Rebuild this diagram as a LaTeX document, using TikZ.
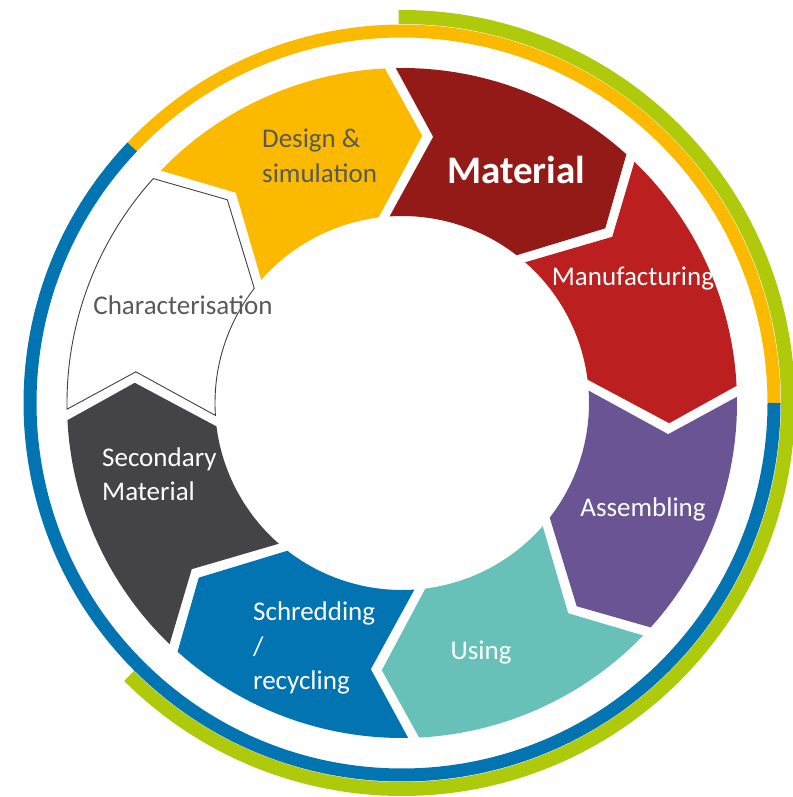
\documentclass[tikz,border=0pt]{standalone}
\usepackage{fontspec}
\setmainfont{Carlito}
\usepackage{tikz}
\usetikzlibrary{positioning}
\definecolor{design}{HTML}{FBBA00}
\definecolor{material}{HTML}{931A16}
\definecolor{manuf}{HTML}{BC1F1F}
\definecolor{assem}{HTML}{6A5494}
\definecolor{using}{HTML}{67C1B9}
\definecolor{recyc}{HTML}{0274B2}
\definecolor{second}{HTML}{444446}
\definecolor{ringgreen}{HTML}{AFCA0B}
\definecolor{txtgrey}{HTML}{595959}

% one chevron of the ring, between boundary #1 and boundary #1+1
\newcommand{\cyclesegment}[2]{%
  \pgfmathsetmacro{\ta}{92-45*#1}%
  \pgfmathsetmacro{\tb}{\ta-45}%
  \path[#2] ({\ta-0.94}:335) arc[start angle=\ta-0.94, end angle=\tb+0.94, radius=335]
    -- ({\tb-7.5+1.18}:268) -- ({\tb+3.5+1.69}:187)
    arc[start angle=\tb+3.5+1.69, end angle=\ta+3.5-1.69, radius=187]
    -- ({\ta-7.5-1.18}:268) -- cycle;%
}

\begin{document}
\begin{tikzpicture}[x=1pt,y=1pt,
    lbl/.style={font=\fontsize{27}{34.5}\selectfont, inner sep=0pt, text=white},
    ring/.style={line width=13pt}]
  \useasboundingbox (-402,-394) rectangle (390,403);

  % outer rings
  \draw[ring,ringgreen,line width=14pt] (90.5:386) arc[start angle=90.5, end angle=-135, radius=386];
  \draw[ring,design] (136.5:372) arc[start angle=136.5, end angle=0, radius=372];
  \draw[ring,recyc] (136.5:372) arc[start angle=136.5, end angle=360, radius=372];

  % chevrons, clockwise from the top
  \cyclesegment{0}{fill=material}
  \cyclesegment{1}{fill=manuf}
  \cyclesegment{2}{fill=assem}
  \cyclesegment{3}{fill=using}
  \cyclesegment{4}{fill=recyc}
  \cyclesegment{5}{fill=second}
  \cyclesegment{6}{fill=white,draw=black!75,line width=0.9pt}
  \cyclesegment{7}{fill=design}

  % labels
  \node[lbl,text=txtgrey,align=left,anchor=west] (design) at (-140,247) {Design \&\\simulation};
  \node[lbl,font=\fontsize{39}{44}\selectfont\bfseries] (material) at (114,233) {Material};
  \node[lbl] (manuf) at (231,124) {Manufacturing};
  \node[lbl] (assem) at (241,-106) {Assembling};
  \node[lbl] (using) at (79,-250) {Using};
  \node[lbl,align=left,anchor=west] (recyc) at (-149,-245) {Schredding\\/\\recycling};
  \node[lbl,align=left,anchor=west] (second) at (-300,-71) {Secondary\\Material};
  \node[lbl,text=txtgrey] (charac) at (-219,98) {Characterisation};
\end{tikzpicture}
\end{document}
